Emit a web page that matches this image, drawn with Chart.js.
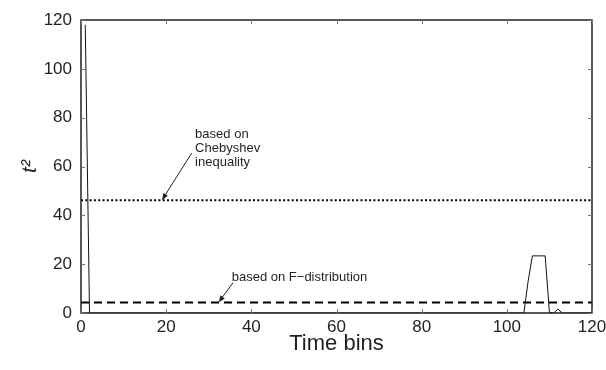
<!DOCTYPE html>
<html>
<head>
<meta charset="utf-8">
<script src="https://cdn.jsdelivr.net/npm/chart.js@4.4.1/dist/chart.umd.min.js"></script>
<style>
  html, body { margin: 0; padding: 0; background: #fff; }
  #wrap { width: 606px; height: 370px; }
</style>
</head>
<body>
<div id="wrap"><canvas id="chart" width="606" height="370"></canvas></div>
<script>
// Time bins on the x axis
const timeBins = [
  1, 2, 3, 4, 5, 6, 7, 8, 9, 10, 11, 12, 13, 14, 15, 16, 17, 18, 19, 20,
  21, 22, 23, 24, 25, 26, 27, 28, 29, 30, 31, 32, 33, 34, 35, 36, 37, 38, 39, 40,
  41, 42, 43, 44, 45, 46, 47, 48, 49, 50, 51, 52, 53, 54, 55, 56, 57, 58, 59, 60,
  61, 62, 63, 64, 65, 66, 67, 68, 69, 70, 71, 72, 73, 74, 75, 76, 77, 78, 79, 80,
  81, 82, 83, 84, 85, 86, 87, 88, 89, 90, 91, 92, 93, 94, 95, 96, 97, 98, 99, 100,
  101, 102, 103, 104, 105, 106, 107, 108, 109, 110, 111, 112, 113, 114, 115, 116, 117, 118, 119, 120
];
// t^2 statistic per bin
const tSquared = [
  118, 0, 0, 0, 0, 0, 0, 0, 0, 0, 0, 0, 0, 0, 0, 0, 0, 0, 0, 0,
  0, 0, 0, 0, 0, 0, 0, 0, 0, 0, 0, 0, 0, 0, 0, 0, 0, 0, 0, 0,
  0, 0, 0, 0, 0, 0, 0, 0, 0, 0, 0, 0, 0, 0, 0, 0, 0, 0, 0, 0,
  0, 0, 0, 0, 0, 0, 0, 0, 0, 0, 0, 0, 0, 0, 0, 0, 0, 0, 0, 0,
  0, 0, 0, 0, 0, 0, 0, 0, 0, 0, 0, 0, 0, 0, 0, 0, 0, 0, 0, 0,
  0, 0, 0, 0, 13, 23.4, 23.4, 23.4, 23.4, 0.3, 0, 1.6, 0, 0, 0, 0, 0, 0, 0, 0
];
// thresholds
const chebyshevLimit = 46.2;
const fDistLimit = 4.3;
const thresholdSpan = [0, 120];

const xTicks = [0, 20, 40, 60, 80, 100, 120];
const yTicks = [0, 20, 40, 60, 80, 100, 120];

const chebyshevNote = ['based on', 'Chebyshev', 'inequality'];
const fDistNote = 'based on F\u2212distribution';

const FONT = 'Liberation Sans, Arial, Helvetica, sans-serif';
const INK = '#231f20';

// annotation placement, in data units
const notes = [
  { lines: chebyshevNote, x: 26.8, y: 73.0, step: 5.7, from: [26.0, 65.5], to: [19.0, chebyshevLimit] },
  { lines: [fDistNote], x: 35.4, y: 14.4, step: 0, from: [35.7, 12.4], to: [32.3, fDistLimit] }
];

// draws the box, inward ticks and the two arrow notes
const frameAndNotes = {
  id: 'frameAndNotes',
  afterDraw(chart) {
    const { ctx, chartArea: a, scales: { x, y } } = chart;
    ctx.save();
    ctx.strokeStyle = INK;
    ctx.lineWidth = 1.5;
    ctx.strokeRect(a.left, a.top, a.right - a.left, a.bottom - a.top);

    ctx.strokeStyle = '#777';
    ctx.lineWidth = 1;
    const tl = 4;
    ctx.beginPath();
    xTicks.forEach(v => {
      const px = Math.round(x.getPixelForValue(v)) + 0.5;
      ctx.moveTo(px, a.bottom); ctx.lineTo(px, a.bottom - tl);
      ctx.moveTo(px, a.top); ctx.lineTo(px, a.top + tl);
    });
    yTicks.forEach(v => {
      const py = Math.round(y.getPixelForValue(v)) + 0.5;
      ctx.moveTo(a.left, py); ctx.lineTo(a.left + tl, py);
      ctx.moveTo(a.right, py); ctx.lineTo(a.right - tl, py);
    });
    ctx.stroke();

    ctx.fillStyle = INK;
    ctx.strokeStyle = INK;
    ctx.font = '13px ' + FONT;
    ctx.textBaseline = 'middle';
    ctx.textAlign = 'left';
    notes.forEach(n => {
      n.lines.forEach((s, i) => {
        ctx.fillText(s, x.getPixelForValue(n.x), y.getPixelForValue(n.y - i * n.step));
      });
      const x0 = x.getPixelForValue(n.from[0]), y0 = y.getPixelForValue(n.from[1]);
      const x1 = x.getPixelForValue(n.to[0]), y1 = y.getPixelForValue(n.to[1]);
      const ang = Math.atan2(y1 - y0, x1 - x0);
      const len = 7, half = 2.6;
      ctx.lineWidth = 1;
      ctx.beginPath();
      ctx.moveTo(x0, y0);
      ctx.lineTo(x1 - Math.cos(ang) * len * 0.8, y1 - Math.sin(ang) * len * 0.8);
      ctx.stroke();
      ctx.beginPath();
      ctx.moveTo(x1, y1);
      ctx.lineTo(x1 - Math.cos(ang) * len - Math.sin(ang) * half, y1 - Math.sin(ang) * len + Math.cos(ang) * half);
      ctx.lineTo(x1 - Math.cos(ang) * len + Math.sin(ang) * half, y1 - Math.sin(ang) * len - Math.cos(ang) * half);
      ctx.closePath();
      ctx.fill();
    });
    ctx.restore();
  }
};

new Chart(document.getElementById('chart'), {
  type: 'line',
  plugins: [frameAndNotes],
  data: {
    datasets: [
      {
        label: 't2',
        data: timeBins.map((b, i) => ({ x: b, y: tSquared[i] })),
        borderColor: '#111',
        borderWidth: 1,
        pointRadius: 0,
        tension: 0
      },
      {
        label: 'Chebyshev',
        data: thresholdSpan.map(v => ({ x: v, y: chebyshevLimit })),
        borderColor: '#000',
        borderWidth: 2,
        borderDash: [2, 2.3],
        pointRadius: 0
      },
      {
        label: 'F-distribution',
        data: thresholdSpan.map(v => ({ x: v, y: fDistLimit })),
        borderColor: '#000',
        borderWidth: 2,
        borderDash: [8, 5],
        pointRadius: 0
      }
    ]
  },
  options: {
    responsive: false,
    animation: false,
    layout: { padding: { top: 20, right: 14, left: 0, bottom: 0 } },
    plugins: { legend: { display: false }, tooltip: { enabled: false } },
    scales: {
      x: {
        type: 'linear',
        min: 0, max: 120,
        afterBuildTicks: s => { s.ticks = xTicks.map(v => ({ value: v })); },
        afterFit: s => { s.height = 57; s.paddingLeft = 0; s.paddingRight = 0; },
        grid: { display: false },
        border: { display: false },
        ticks: { color: INK, font: { family: FONT, size: 17 }, padding: -4, maxRotation: 0 },
        title: { display: true, text: 'Time bins', color: INK, font: { family: FONT, size: 22 }, padding: { top: 0, bottom: 13 } }
      },
      y: {
        type: 'linear',
        min: 0, max: 120,
        afterBuildTicks: s => { s.ticks = yTicks.map(v => ({ value: v })); },
        afterFit: s => { s.width = 81; s.paddingTop = 0; s.paddingBottom = 0; },
        grid: { display: false },
        border: { display: false },
        ticks: { color: INK, font: { family: FONT, size: 17 }, padding: 1 },
        title: { display: true, text: 't\u00b2', color: INK, font: { family: FONT, size: 21, style: 'italic' }, padding: { top: 18, bottom: 0 } }
      }
    }
  }
});
</script>
</body>
</html>
